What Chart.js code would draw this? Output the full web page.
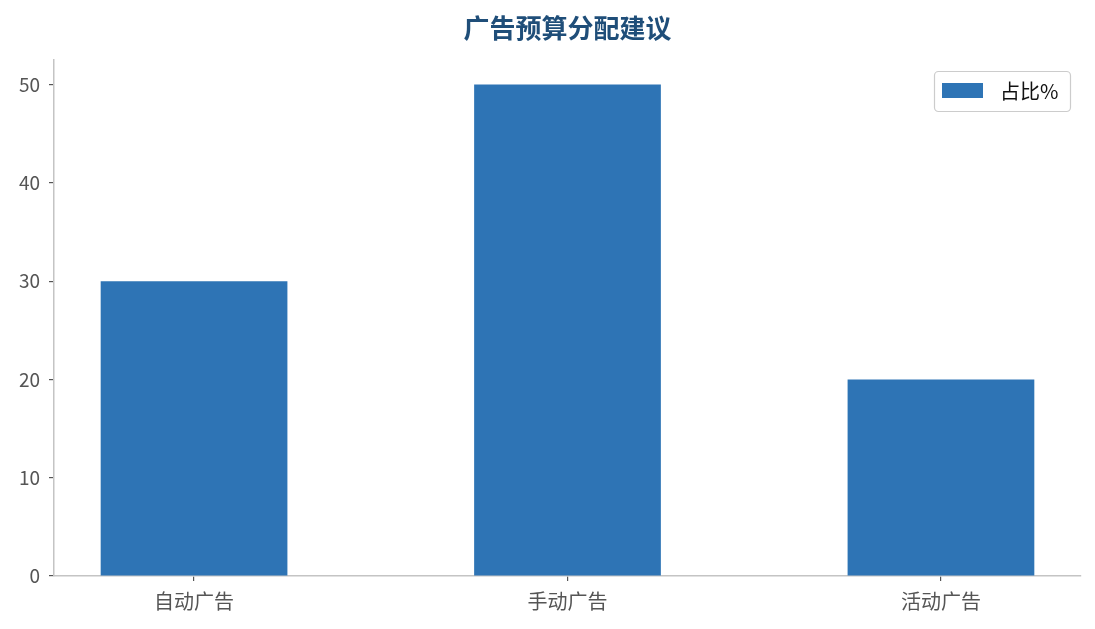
<!DOCTYPE html>
<html>
<head>
<meta charset="utf-8">
<script src="https://cdn.jsdelivr.net/npm/chart.js@4/dist/chart.umd.min.js"></script>
<style>
  html, body { margin: 0; padding: 0; background: #fff; }
  #wrap { width: 1095px; height: 629px; }
</style>
</head>
<body>
<div id="wrap"><canvas id="c" width="1095" height="629"></canvas></div>
<script>
const categories = ['自动广告', '手动广告', '活动广告'];
const shareValues = [30, 50, 20];
const yTicks = [0, 10, 20, 30, 40, 50];
const seriesLabel = '占比%';
const chartTitle = '广告预算分配建议';

const FONT = '"Noto Sans CJK SC", "Noto Sans", sans-serif';
const barColor = '#2e74b5';

// title centred over the plot area (the built-in one only reserves the space)
const plotTitle = {
  id: 'plotTitle',
  afterDraw(chart) {
    const ctx = chart.ctx;
    const area = chart.chartArea;
    ctx.save();
    ctx.fillStyle = '#1f4e79';
    ctx.font = 'bold 26px ' + FONT;
    ctx.textAlign = 'center';
    ctx.textBaseline = 'middle';
    ctx.fillText(chartTitle, (area.left + area.right) / 2, 28);
    ctx.restore();
  }
};

// legend drawn inside the plot, top right
const boxLegend = {
  id: 'boxLegend',
  afterDraw(chart) {
    const ctx = chart.ctx;
    const ds = chart.data.datasets[0];
    const area = chart.chartArea;
    const w = 136, h = 40;
    const x = area.right - 11 - w, y = area.top + 11;
    ctx.save();
    ctx.fillStyle = 'rgba(255,255,255,0.8)';
    ctx.strokeStyle = '#cccccc';
    ctx.lineWidth = 1.2;
    ctx.beginPath();
    ctx.roundRect(x + 0.5, y + 0.5, w, h, 4);
    ctx.fill();
    ctx.stroke();
    ctx.fillStyle = ds.backgroundColor;
    ctx.fillRect(x + 8, y + 12, 41, 15);
    ctx.fillStyle = '#111';
    ctx.font = '20px ' + FONT;
    ctx.textBaseline = 'middle';
    ctx.fillText(ds.label, x + 66, y + 20);
    ctx.restore();
  }
};

new Chart(document.getElementById('c'), {
  type: 'bar',
  data: {
    datasets: [{
      label: seriesLabel,
      data: shareValues.map((v, i) => ({ x: i, y: v })),
      backgroundColor: barColor,
      borderWidth: 0,
      barPercentage: 0.5,
      categoryPercentage: 1.0
    }]
  },
  options: {
    responsive: false,
    animation: false,
    devicePixelRatio: 1,
    layout: { padding: { left: 0, right: 14, top: 0, bottom: 0 } },
    plugins: {
      legend: { display: false },
      tooltip: { enabled: false },
      title: {
        display: true,
        text: chartTitle,
        color: 'rgba(0,0,0,0)',
        font: { family: FONT, size: 25, weight: 'bold', lineHeight: 1.2 },
        padding: { top: 13, bottom: 17 }
      }
    },
    scales: {
      x: {
        type: 'linear',
        min: -0.375,
        max: 2.375,
        offset: false,
        afterBuildTicks(scale) { scale.ticks = categories.map((c, i) => ({ value: i })); },
        afterFit(scale) { scale.height = 53; },
        ticks: {
          color: '#555',
          font: { family: FONT, size: 20 },
          padding: 8,
          callback: (v) => categories[v]
        },
        grid: { display: true, offset: false, drawOnChartArea: false, drawTicks: true, tickLength: 5, color: '#555', lineWidth: 1.2 },
        border: { color: '#c4c4c4', width: 1.5 }
      },
      y: {
        min: 0,
        max: 52.5,
        afterBuildTicks(scale) { scale.ticks = yTicks.map(v => ({ value: v })); },
        afterFit(scale) { scale.width = 54; },
        ticks: {
          color: '#555',
          font: { family: FONT, size: 19 },
          padding: 9
        },
        grid: { display: true, drawOnChartArea: false, drawTicks: true, tickLength: 5, color: '#555', lineWidth: 1.2 },
        border: { color: '#c4c4c4', width: 1.5 }
      }
    }
  },
  plugins: [plotTitle, boxLegend]
});
</script>
</body>
</html>
